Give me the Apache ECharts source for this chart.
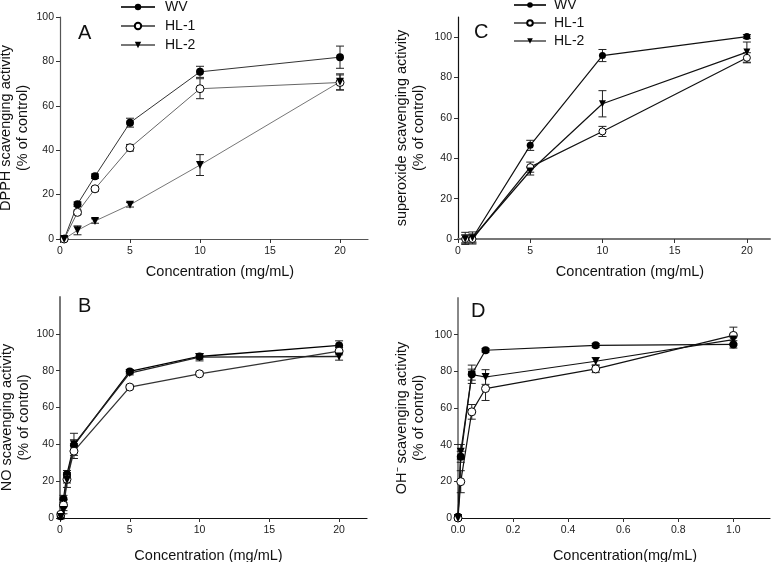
<!DOCTYPE html>
<html>
<head>
<meta charset="utf-8">
<script src="https://cdn.jsdelivr.net/npm/echarts@6/dist/echarts.min.js"></script>
<style>
html,body{margin:0;padding:0;background:#fff;}
#chart{width:776px;height:562px;}
</style>
</head>
<body>
<div id="chart"></div>
<script>
// ---------- DATA ----------
const seriesNames = ['WV', 'HL-1', 'HL-2'];
const panelLetters = ['A', 'B', 'C', 'D'];

// Panel A: DPPH
const xA = [0.3, 1.25, 2.5, 5, 10, 20];
const wvA = [0, 15.7, 28.3, 52.4, 75.3, 81.9];
const hl1A = [0, 12.0, 22.6, 41.1, 67.7, 70.5];
const hl2A = [0, 3.9, 8.1, 15.4, 33.3, 70.8];
const wvAErr = [0, 1, 1, 2, 2.5, 5];
const hl1AErr = [0, 1, 1, 1.5, 4.5, 3.4];
const hl2AErr = [0, 2, 1, 1, 4.7, 3.6];

// Panel B: NO
const xB = [0.06, 0.25, 0.5, 1, 5, 10, 20];
const wvB = [1, 10.3, 23.8, 39.5, 79.6, 87.7, 93.7];
const hl1B = [2, 7, 21, 36.3, 71.1, 78.3, 90.6];
const hl2B = [0.5, 4.3, 20.6, 40, 78.7, 87.3, 87.7];
const wvBErr = [1, 2, 2, 3, 1, 1.5, 2.5];
const hl1BErr = [1, 3, 2, 4, 1, 1, 2];
const hl2BErr = [1, 2, 4, 6, 1, 2, 2];

// Panel C: superoxide
const xC = [0.5, 1, 5, 10, 20];
const wvC = [0.3, 0.5, 46.4, 90.9, 100.3];
const hl1C = [0, 0, 35.6, 53.3, 89.8];
const hl2C = [0, 0.5, 33.7, 67, 92.6];
const wvCErr = [3, 3, 2.5, 3, 1];
const hl1CErr = [2, 2, 2.5, 2.5, 2.5];
const hl2CErr = [2, 2, 2, 6.5, 5];

// Panel D: OH-
const xD = [0, 0.01, 0.05, 0.1, 0.5, 1];
const wvD = [0.7, 33.4, 78.4, 91.5, 94.2, 94.7];
const hl1D = [0, 19.8, 57.9, 70.6, 81.3, 99.6];
const hl2D = [0, 36.1, 78.2, 76.9, 85.5, 97.3];
const wvDErr = [1, 3, 5, 1, 1, 2];
const hl1DErr = [1, 6, 4, 6.5, 2, 4.5];
const hl2DErr = [1, 4, 3, 4, 2, 3];

// tick labels
const xTicks20 = [0, 5, 10, 15, 20];
const xTicks1 = [0, 0.2, 0.4, 0.6, 0.8, 1.0];
const yTicks100 = [0, 20, 40, 60, 80, 100];

const yNames = [
  'DPPH scavenging activity\n(% of control)',
  'NO scavenging activity\n(% of control)',
  'superoxide scavenging activity\n(% of control)',
  'OH\u207B scavenging activity\n(% of control)'
];
const xNames = ['Concentration (mg/mL)', 'Concentration (mg/mL)', 'Concentration (mg/mL)', 'Concentration(mg/mL)'];

// ---------- BUILD ----------
const FONT = '"Liberation Sans", Arial, Helvetica, sans-serif';
const chart = echarts.init(document.getElementById('chart'), null, {renderer: 'canvas'});

function pairs(xs, ys) { return xs.map((x, i) => [x, ys[i]]); }
function triples(xs, ys, es) { return xs.map((x, i) => [x, ys[i], es[i]]); }

const panels = [
  {xs: xA, ys: [wvA, hl1A, hl2A], es: [wvAErr, hl1AErr, hl2AErr]},
  {xs: xB, ys: [wvB, hl1B, hl2B], es: [wvBErr, hl1BErr, hl2BErr]},
  {xs: xC, ys: [wvC, hl1C, hl2C], es: [wvCErr, hl1CErr, hl2CErr]},
  {xs: xD, ys: [wvD, hl1D, hl2D], es: [wvDErr, hl1DErr, hl2DErr]}
];

const grids = [
  {left: 60, top: 17, width: 308, height: 222},
  {left: 60, top: 297, width: 307, height: 221},
  {left: 458, top: 17, width: 312, height: 222},
  {left: 458, top: 298, width: 312, height: 220}
];

const xCfg = [
  {max: 22, ticks: xTicks20, color: '#555', w: 1.2, namePad: [0, 0, 0, 12], gap: 24},
  {max: 22, ticks: xTicks20, color: '#111', w: 1.2, namePad: [0, 10, 0, 0], gap: 29},
  {max: 21.6, ticks: xTicks20, color: '#777', w: 2, namePad: [0, 0, 0, 32], gap: 24},
  {max: 1.133, ticks: xTicks1, color: '#111', w: 1.2, namePad: [0, 0, 0, 22], gap: 29}
];
const yCfg = [
  {max: 100, color: '#555', w: 1.2, gap: 29, namePad: [0, 0, 0, 0]},
  {max: 120, color: '#777', w: 2, gap: 20, namePad: [0, 20, 0, 0]},
  {max: 110, color: '#111', w: 1.2, gap: 31, namePad: [0, 0, 0, 0]},
  {max: 120, color: '#888', w: 2, gap: 31, namePad: [0, 20, 0, 0]}
];

const labelStyle = {fontFamily: FONT, fontSize: 10.5, color: '#222'};
const nameStyle = {fontFamily: FONT, fontSize: 14.5, color: '#111', lineHeight: 17};

const xAxes = grids.map((g, i) => ({
  type: 'value', gridIndex: i, min: 0, max: xCfg[i].max,
  name: xNames[i], nameLocation: 'middle', nameGap: xCfg[i].gap,
  nameTextStyle: Object.assign({}, nameStyle, {padding: xCfg[i].namePad}),
  axisLine: {show: true, onZero: false, lineStyle: {color: xCfg[i].color, width: xCfg[i].w}},
  axisTick: {show: true, inside: false, length: 4, customValues: xCfg[i].ticks, lineStyle: {color: '#333'}},
  axisLabel: Object.assign({}, labelStyle, {customValues: xCfg[i].ticks, margin: 7,
    formatter: v => i === 3 ? v.toFixed(1) : String(v)}),
  splitLine: {show: false}
}));

const yAxes = grids.map((g, i) => ({
  type: 'value', gridIndex: i, min: 0, max: yCfg[i].max,
  name: yNames[i], nameLocation: 'middle', nameGap: yCfg[i].gap,
  nameTextStyle: Object.assign({}, nameStyle, {padding: yCfg[i].namePad}),
  axisLine: {show: true, onZero: false, lineStyle: {color: yCfg[i].color, width: yCfg[i].w}},
  axisTick: {show: true, inside: false, length: 4, customValues: yTicks100, lineStyle: {color: '#333'}},
  axisLabel: Object.assign({}, labelStyle, {customValues: yTicks100, margin: 6}),
  splitLine: {show: false}
}));

const symbols = [
  {symbol: 'circle', rot: 0, item: {color: '#000'}},
  {symbol: 'circle', rot: 0, item: {color: '#fff', borderColor: '#000', borderWidth: 1}},
  {symbol: 'triangle', rot: 180, item: {color: '#000'}}
];
const lineColors = [
  ['#333', '#666', '#777'],
  ['#000', '#333', '#222'],
  ['#111', '#111', '#111'],
  ['#111', '#111', '#111']
];
const lineWidths = [1, 1.3, 1.2, 1.2];
const symSizes = [8, 8, 7, 8];

function errRender(params, api) {
  const x = api.value(0), y = api.value(1), e = api.value(2);
  if (!e) return null;
  const t = api.coord([x, y + e]);
  const b = api.coord([x, y - e]);
  const cw = 4;
  const st = {stroke: '#222', lineWidth: 1};
  return {
    type: 'group',
    children: [
      {type: 'line', shape: {x1: t[0], y1: t[1], x2: b[0], y2: b[1]}, style: st},
      {type: 'line', shape: {x1: t[0] - cw, y1: t[1], x2: t[0] + cw, y2: t[1]}, style: st},
      {type: 'line', shape: {x1: b[0] - cw, y1: b[1], x2: b[0] + cw, y2: b[1]}, style: st}
    ]
  };
}

const series = [];
panels.forEach((p, pi) => {
  seriesNames.forEach((nm, si) => {
    series.push({
      type: 'custom', xAxisIndex: pi, yAxisIndex: pi, z: 1,
      renderItem: errRender, data: triples(p.xs, p.ys[si], p.es[si]),
      encode: {x: 0, y: 1}, silent: true
    });
  });
  seriesNames.forEach((nm, si) => {
    series.push({
      type: 'line', name: nm, xAxisIndex: pi, yAxisIndex: pi, z: 2,
      data: pairs(p.xs, p.ys[si]),
      symbol: symbols[si].symbol, symbolRotate: symbols[si].rot,
      symbolSize: symSizes[pi], showAllSymbol: true,
      itemStyle: symbols[si].item,
      lineStyle: {color: lineColors[pi][si], width: lineWidths[pi]},
      clip: false
    });
  });
});

const letterPos = [[78, 23], [78, 296], [474, 22], [471, 301]];
const graphics = panelLetters.map((L, i) => ({
  type: 'text', left: letterPos[i][0], top: letterPos[i][1],
  style: {text: L, fontFamily: FONT, fontSize: 20, fill: '#111'}
}));

const option = {
  animation: false,
  backgroundColor: '#fff',
  grid: grids.map(g => Object.assign({containLabel: false, outerBoundsMode: 'none'}, g)),
  xAxis: xAxes,
  yAxis: yAxes,
  legend: [
    {data: seriesNames, orient: 'vertical', left: 120, top: 0, padding: 0, itemGap: 5,
     itemWidth: 34, itemHeight: 8,
     textStyle: {fontFamily: FONT, fontSize: 14, color: '#111', padding: [0, 0, 0, 5]}},
    {data: seriesNames, orient: 'vertical', left: 513, top: -2, padding: 0, itemGap: 4,
     itemWidth: 32, itemHeight: 7,
     textStyle: {fontFamily: FONT, fontSize: 14, color: '#111', padding: [0, 0, 0, 3]}}
  ],
  graphic: graphics,
  series: series
};
chart.setOption(option);
</script>
</body>
</html>
